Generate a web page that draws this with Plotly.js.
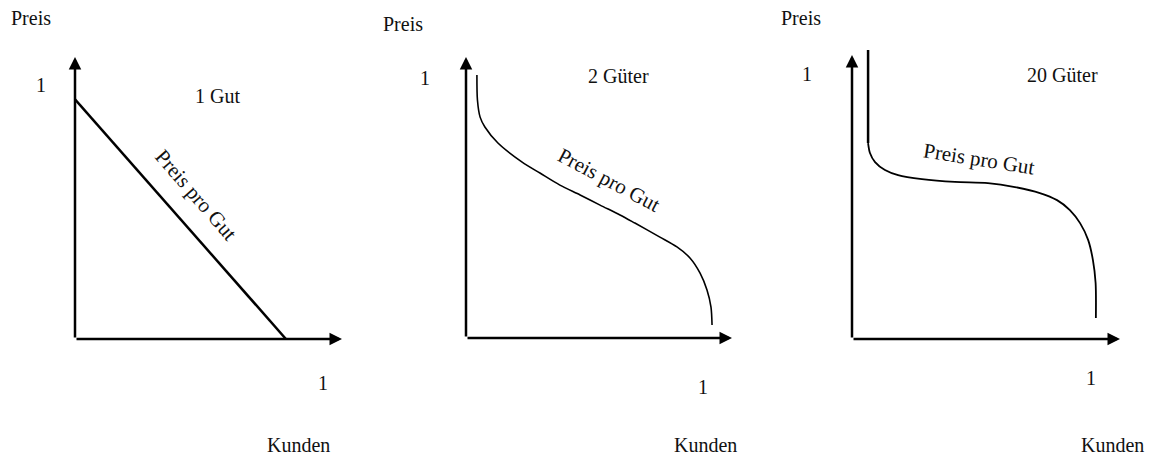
<!DOCTYPE html>
<html>
<head>
<meta charset="utf-8">
<script src="https://cdn.plot.ly/plotly-3.0.1.min.js"></script>
<style>html,body{margin:0;padding:0;background:#fff;}#chart{width:1150px;height:456px;}</style>
</head>
<body>
<div id="chart"></div>
<script>
// ---- data (normalised: 0..1 on both axes) ----
const panelTitles = ['1 Gut', '2 Güter', '20 Güter'];
const curveLabel = 'Preis pro Gut';
const yAxisLabel = 'Preis';
const xAxisLabel = 'Kunden';
const tickLabel = '1';

const gut1X = [0, 0.79];
const gut1Y = [0.85, 0];

const gut2X = [0.041, 0.043, 0.053, 0.071, 0.120, 0.211, 0.278, 0.353, 0.429, 0.504, 0.579, 0.635, 0.729, 0.793, 0.842, 0.880, 0.906, 0.921, 0.925];
const gut2Y = [0.936, 0.847, 0.786, 0.751, 0.694, 0.626, 0.587, 0.544, 0.509, 0.473, 0.438, 0.409, 0.359, 0.324, 0.285, 0.231, 0.171, 0.110, 0.046];

const gut20TopX = [0.060, 0.060];
const gut20TopY = [1.018, 0.690];
const gut20X = [0.060, 0.067, 0.086, 0.123, 0.172, 0.261, 0.384, 0.507, 0.608, 0.701, 0.765, 0.813, 0.851, 0.881, 0.899, 0.909, 0.910];
const gut20Y = [0.690, 0.655, 0.623, 0.595, 0.577, 0.563, 0.553, 0.549, 0.535, 0.514, 0.489, 0.454, 0.408, 0.349, 0.278, 0.197, 0.074];

// ---- layout geometry (pixels) ----
const W = 1150, H = 456;
const panels = [
  {ox: 75,  oy: 339, tipX: 342,  tipY: 57},
  {ox: 466, oy: 338, tipX: 732,  tipY: 57},
  {ox: 852, oy: 339, tipX: 1120, tipY: 55}
];
const YMAX = 1.1;
const fx = p => p / W;
const fy = p => 1 - p / H;

const font = {family: '"Liberation Serif", "Times New Roman", serif', size: 20, color: '#111'};
const rotFont = {family: '"Liberation Serif", "Times New Roman", serif', size: 21, color: '#111'};
const layout = {
  width: W, height: H,
  margin: {l: 0, r: 0, t: 0, b: 0},
  paper_bgcolor: '#fff', plot_bgcolor: 'rgba(0,0,0,0)',
  showlegend: false,
  font: font,
  annotations: [],
  shapes: []
};

panels.forEach((p, i) => {
  const n = i === 0 ? '' : String(i + 1);
  const unitY = p.oy - p.tipY;
  const topPx = p.oy - YMAX * unitY;
  layout['xaxis' + n] = {domain: [fx(p.ox), fx(p.tipX)], range: [0, 1], visible: false, fixedrange: true, anchor: 'y' + n};
  layout['yaxis' + n] = {domain: [fy(p.oy), fy(topPx)], range: [0, YMAX], visible: false, fixedrange: true, anchor: 'x' + n};
  const xr = 'x' + n, yr = 'y' + n;
  // axes with arrowheads
  layout.annotations.push({xref: xr, yref: yr, axref: xr, ayref: yr, x: 1, y: 0, ax: 0, ay: 0, text: '', showarrow: true, arrowhead: 2, arrowsize: 1, arrowwidth: 2.5, arrowcolor: '#000'});
  layout.annotations.push({xref: xr, yref: yr, axref: xr, ayref: yr, x: 0, y: 1, ax: 0, ay: 0, text: '', showarrow: true, arrowhead: 2, arrowsize: 1, arrowwidth: 2.5, arrowcolor: '#000'});
});

const txt = (x, y, text, extra) => Object.assign({xref: 'paper', yref: 'paper', x: fx(x), y: fy(y), text: text, showarrow: false, xanchor: 'center', yanchor: 'middle', font: font}, extra || {});

// panel 1
layout.annotations.push(txt(31, 18, yAxisLabel));
layout.annotations.push(txt(41, 85, tickLabel));
layout.annotations.push(txt(217, 96, panelTitles[0]));
layout.annotations.push(txt(323, 383, tickLabel));
layout.annotations.push(txt(298, 445, xAxisLabel));
layout.annotations.push(txt(196, 195, curveLabel, {textangle: 49, font: rotFont}));
// panel 2
layout.annotations.push(txt(403, 24, yAxisLabel));
layout.annotations.push(txt(425, 78, tickLabel));
layout.annotations.push(txt(618, 76, panelTitles[1]));
layout.annotations.push(txt(703, 387, tickLabel));
layout.annotations.push(txt(705, 445, xAxisLabel));
layout.annotations.push(txt(609, 180, curveLabel, {textangle: 28, font: rotFont}));
// panel 3
layout.annotations.push(txt(801, 18, yAxisLabel));
layout.annotations.push(txt(807, 74, tickLabel));
layout.annotations.push(txt(1062, 75, panelTitles[2]));
layout.annotations.push(txt(1091, 378, tickLabel));
layout.annotations.push(txt(1112, 445, xAxisLabel));
layout.annotations.push(txt(979, 159, curveLabel, {textangle: 9, font: rotFont}));

const data = [
  {x: gut1X, y: gut1Y, xaxis: 'x', yaxis: 'y', mode: 'lines', line: {color: '#000', width: 2.5}, hoverinfo: 'skip'},
  {x: gut2X, y: gut2Y, xaxis: 'x2', yaxis: 'y2', mode: 'lines', line: {color: '#000', width: 1.6, shape: 'spline', smoothing: 0.8}, hoverinfo: 'skip'},
  {x: gut20TopX, y: gut20TopY, xaxis: 'x3', yaxis: 'y3', mode: 'lines', line: {color: '#000', width: 2.5}, hoverinfo: 'skip'},
  {x: gut20X, y: gut20Y, xaxis: 'x3', yaxis: 'y3', mode: 'lines', line: {color: '#000', width: 1.8, shape: 'spline', smoothing: 0.8}, hoverinfo: 'skip'}
];

Plotly.newPlot('chart', data, layout, {displayModeBar: false, staticPlot: true});
</script>
</body>
</html>
